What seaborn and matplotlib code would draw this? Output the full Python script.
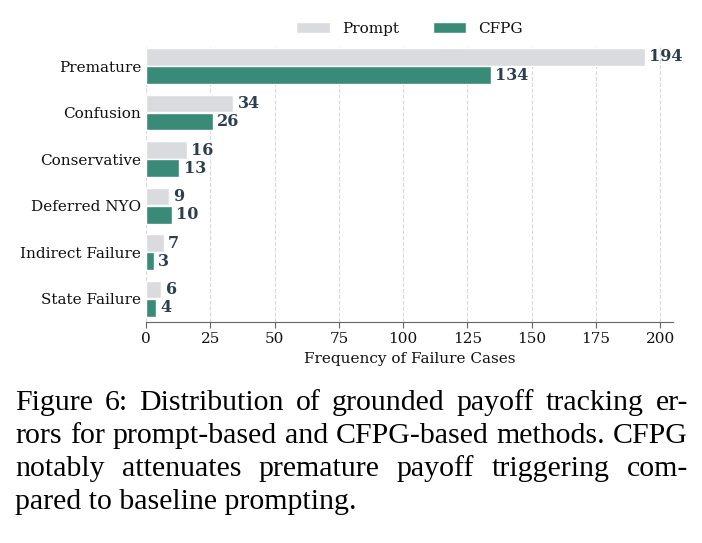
import pandas as pd
import numpy as np
import matplotlib.pyplot as plt
import seaborn as sns

# Failure categories and counts per method
categories = ['Premature', 'Confusion', 'Conservative', 'Deferred NYO',
              'Indirect Failure', 'State Failure']
prompt_counts = [194, 34, 16, 9, 7, 6]
cfpg_counts = [134, 26, 13, 10, 3, 4]
methods = ['Prompt', 'CFPG']
colors = ['#dadbde', '#3a8a78']
ticks = [0, 25, 50, 75, 100, 125, 150, 175, 200]

caption_lines = [
    'Figure 6: Distribution of grounded payoff tracking er-',
    'rors for prompt-based and CFPG-based methods. CFPG',
    'notably attenuates premature payoff triggering com-',
    'pared to baseline prompting.',
]

df = pd.DataFrame({
    'category': categories * 2,
    'count': prompt_counts + cfpg_counts,
    'method': [methods[0]] * len(categories) + [methods[1]] * len(categories),
})

sns.set_style('white')
plt.rcParams['font.family'] = ['DejaVu Serif']
plt.rcParams['text.color'] = '#111111'
plt.rcParams['xtick.color'] = '#111111'
plt.rcParams['ytick.color'] = '#111111'
plt.rcParams['axes.labelcolor'] = '#111111'

fig = plt.figure(figsize=(7.02, 5.43), dpi=100)
ax = fig.add_axes([0.208, 0.407, 0.751, 0.510])

sns.barplot(data=df, y='category', x='count', hue='method', orient='h',
            palette=colors, saturation=1, width=0.78, gap=0.03, ax=ax,
            order=categories, hue_order=methods)

for cont in ax.containers:
    ax.bar_label(cont, padding=3, fontsize=11.5, fontweight='bold', color='#2c3e50')

ax.set_xlim(0, 205)
ax.set_ylim(len(categories) - 0.5, -0.45)
ax.set_xticks(ticks)
ax.tick_params(axis='x', labelsize=11, length=4, color='#666666', bottom=True)
ax.tick_params(axis='y', labelsize=11, length=0)
ax.set_xlabel('Frequency of Failure Cases', fontsize=11)
ax.set_ylabel('')
ax.grid(axis='x', linestyle='--', color='#d8d8d8', linewidth=0.8)
ax.set_axisbelow(True)
for s in ['top', 'right', 'left']:
    ax.spines[s].set_visible(False)
ax.spines['bottom'].set_color('#666666')

ax.legend(loc='lower center', bbox_to_anchor=(0.5, 1.0), ncol=2, frameon=False,
          fontsize=11, handlelength=2.2, handleheight=0.7, columnspacing=2.2,
          borderaxespad=0.2)

# caption, justified like the paper text (last line left aligned)
x_left, x_right = 15, 688
renderer = fig.canvas.get_renderer()
for i, line in enumerate(caption_lines):
    y = 1 - (403 + 33 * i) / 543
    if i == len(caption_lines) - 1:
        fig.text(x_left / 702, y, line, fontsize=21.5, family='Liberation Serif',
                 va='center', ha='left', color='black')
        continue
    words = line.split(' ')
    txts = [fig.text(0, y, w, fontsize=21.5, family='Liberation Serif',
                     va='center', ha='left', color='black') for w in words]
    widths = [t.get_window_extent(renderer).width for t in txts]
    gap = (x_right - x_left - sum(widths)) / (len(words) - 1)
    pos = x_left
    for t, w in zip(txts, widths):
        t.set_x(pos / 702)
        pos += w + gap

fig.savefig('out.png', dpi=100)
